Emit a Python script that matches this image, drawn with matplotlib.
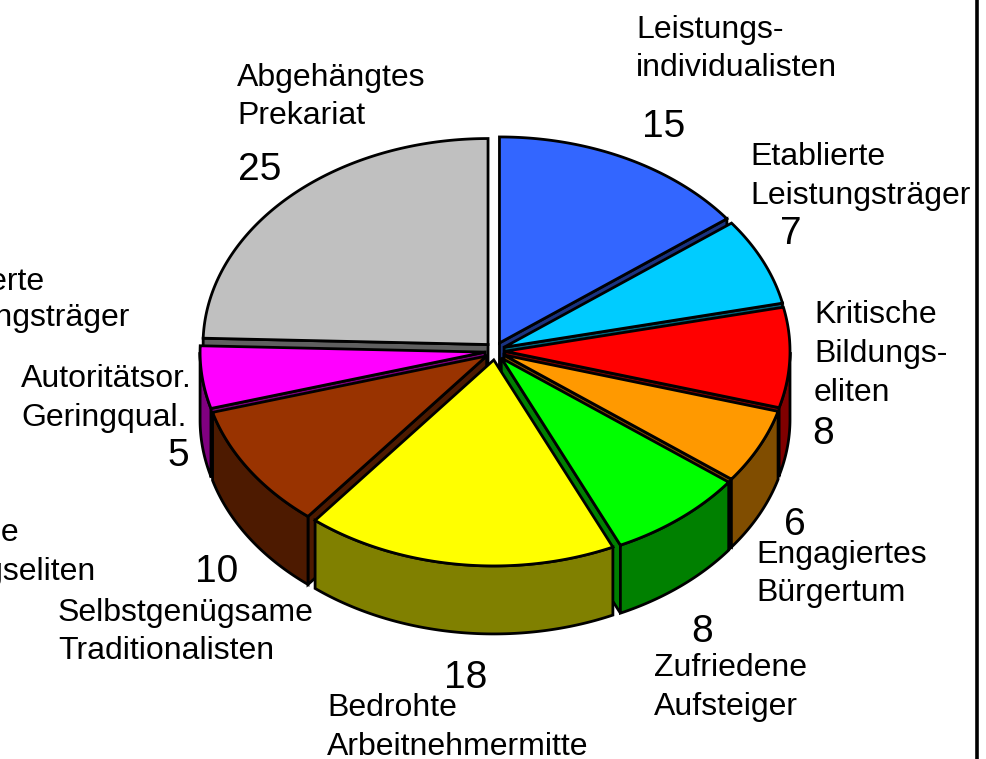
import numpy as np
import matplotlib
matplotlib.use("Agg")
import matplotlib.pyplot as plt
from matplotlib.patches import Polygon

segments = ["Leistungsindividualisten", "Etablierte Leistungsträger", "Kritische Bildungseliten",
            "Engagiertes Bürgertum", "Zufriedene Aufsteiger", "Bedrohte Arbeitnehmermitte",
            "Selbstgenügsame Traditionalisten", "Autoritätsor. Geringqual.", "Abgehängtes Prekariat"]
values = [15, 7, 8, 6, 8, 18, 10, 5, 25]
top_colors = ["#3366FF", "#00CCFF", "#FF0000", "#FF9900", "#00FF00", "#FFFF00", "#993300", "#FF00FF", "#C0C0C0"]
side_colors = ["#1A3380", "#006680", "#800000", "#804D00", "#008000", "#808000", "#4D1A00", "#800080", "#606060"]

label_lines = [
    ("Leistungs-", 636, 38), ("individualisten", 636, 76),
    ("Etablierte", 750, 165), ("Leistungsträger", 750, 204),
    ("Kritische", 814, 323), ("Bildungs-", 814, 362), ("eliten", 814, 401),
    ("Engagiertes", 756, 563), ("Bürgertum", 756, 601),
    ("Zufriedene", 654, 676), ("Aufsteiger", 654, 715),
    ("Bedrohte", 327, 716), ("Arbeitnehmermitte", 327, 755),
    ("Selbstgenügsame", 58, 621), ("Traditionalisten", 58, 659),
    ("Autoritätsor.", 21, 387), ("Geringqual.", 21, 426),
    ("Abgehängtes", 237, 86), ("Prekariat", 237, 124),
    ("Etablierte", -91, 290), ("Leistungsträger", -91, 326),
    ("Kritische", -104, 541), ("Bildungseliten", -104, 580),
]
number_pos = [(664, 137), (791, 244), (823, 444), (795, 535), (702, 642),
              (466, 688), (217, 582), (178, 466), (260, 180)]

CX, CY, RX, RY, DEPTH, EX, EY = 495, 351, 285, 206, 68, 10, 9
LW = 2.0

fig = plt.figure(figsize=(9.87, 7.59), dpi=100)
ax = fig.add_axes([0, 0, 1, 1])
ax.set_xlim(0, 987)
ax.set_ylim(759, 0)
ax.axis("off")

total = sum(values)
edges = np.cumsum([0] + values) / total * 2 * np.pi
mids = (edges[:-1] + edges[1:]) / 2


def poly(pts, color, z):
    ax.add_patch(Polygon(pts, closed=True, facecolor=color, edgecolor="black",
                         linewidth=LW, joinstyle="miter", zorder=z))


z = 2
for i in sorted(range(len(values)), key=lambda k: -np.cos(mids[k])):
    ax_x = CX + EX * np.sin(mids[i])
    ax_y = CY - EY * np.cos(mids[i])
    t = np.linspace(edges[i], edges[i + 1], 120)
    xs = ax_x + RX * np.sin(t)
    ys = ax_y - RY * np.cos(t)
    apex = (ax_x, ax_y)
    # radial walls that face the viewer
    if np.sin(edges[i]) < 0:
        poly([apex, (xs[0], ys[0]), (xs[0], ys[0] + DEPTH), (ax_x, ax_y + DEPTH)], side_colors[i], z)
    if np.sin(edges[i + 1]) > 0:
        poly([apex, (xs[-1], ys[-1]), (xs[-1], ys[-1] + DEPTH), (ax_x, ax_y + DEPTH)], side_colors[i], z)
    # outer wall, only where it faces the viewer
    front = np.cos(t) <= 0
    if front.any():
        fx, fy = xs[front], ys[front]
        poly(np.column_stack([np.r_[fx, fx[::-1]], np.r_[fy, fy[::-1] + DEPTH]]), side_colors[i], z)
    poly(np.vstack([[apex], np.column_stack([xs, ys])]), top_colors[i], z + 0.5)
    z += 1

for s, x, y in label_lines:
    ax.text(x, y, s, family="Liberation Sans", fontsize=23, color="black", ha="left", va="baseline", zorder=50)
for v, (x, y) in zip(values, number_pos):
    ax.text(x, y, str(v), family="Liberation Sans", fontsize=28,
            color="black", ha="center", va="baseline", zorder=50)

ax.plot([977, 977], [0, 759], color="black", lw=2.6, solid_capstyle="butt", zorder=60)
fig.savefig("out.png", dpi=100)
